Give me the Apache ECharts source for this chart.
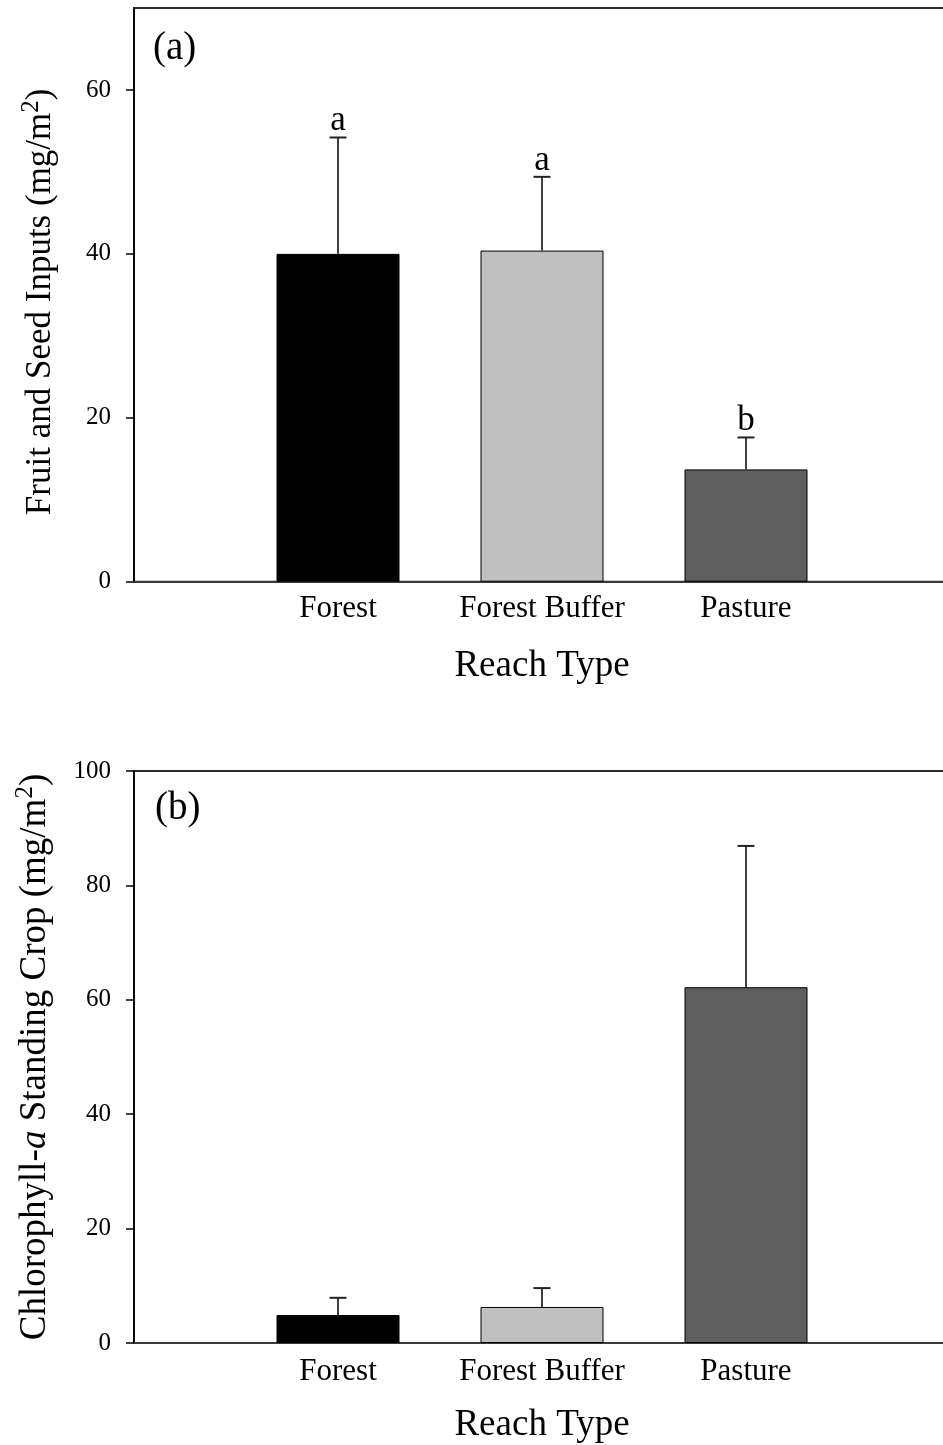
<!DOCTYPE html>
<html>
<head>
<meta charset="utf-8">
<script src="https://cdn.jsdelivr.net/npm/echarts@6/dist/echarts.min.js"></script>
<style>
  html, body { margin: 0; padding: 0; background: #ffffff; overflow: hidden; }
  #chart { width: 953px; height: 1445px; }
</style>
</head>
<body>
<div id="chart"></div>
<script>
// Reach types (blank slots pad both ends of the category axis)
const categories = ['', 'Forest', 'Forest Buffer', 'Pasture', ''];

// (a) Fruit and seed inputs, mean and mean + SE (mg/m2)
const fruitMean  = [null, 40.0, 40.4, 13.7, null];
const fruitUpper = [null, 54.2, 49.4, 17.6, null];
const fruitLetters = ['', 'a', 'a', 'b', ''];
const fruitTicks = [0, 20, 40, 60];

// (b) Chlorophyll-a standing crop, mean and mean + SE (mg/m2)
const chlMean  = [null, 4.9, 6.3, 62.2, null];
const chlUpper = [null, 7.9, 9.6, 86.9, null];
const chlLetters = ['', '', '', '', ''];
const chlTicks = [0, 20, 40, 60, 80, 100];

const barFills = ['none', '#000000', '#c0c0c0', '#5f5f5f', 'none'];

const FONT = '"Liberation Serif", "Times New Roman", serif';

function barData(means) {
  return means.map((v, i) => v == null ? null : {
    value: v,
    itemStyle: { color: barFills[i], borderColor: '#000', borderWidth: 1 }
  });
}

function errData(means, uppers) {
  const rows = [];
  means.forEach((v, i) => { if (v != null) rows.push([i, v, uppers[i]]); });
  return rows;
}

function errRenderer(letters) {
  return function (params, api) {
    const i = api.value(0);
    const base = api.coord([i, api.value(1)]);
    const top = api.coord([i, api.value(2)]);
    const children = [
      { type: 'line', shape: { x1: base[0], y1: base[1], x2: top[0], y2: top[1] },
        style: { stroke: '#000', lineWidth: 1.5 } },
      { type: 'line', shape: { x1: top[0] - 8.5, y1: top[1], x2: top[0] + 8.5, y2: top[1] },
        style: { stroke: '#222', lineWidth: 2 } }
    ];
    const letter = letters[i];
    if (letter) {
      children.push({ type: 'text', x: top[0], y: top[1] + 1,
        style: { text: letter, fontFamily: FONT, fontSize: 35, fill: '#000',
                 align: 'center', verticalAlign: 'bottom' } });
    }
    return { type: 'group', children: children };
  };
}

function nameRich(size) {
  return {
    n: { fontFamily: FONT, fontSize: size, lineHeight: 44, color: '#000' },
    i: { fontFamily: FONT, fontSize: size, lineHeight: 44, fontStyle: 'italic', color: '#000' },
    s: { fontFamily: FONT, fontSize: 25, lineHeight: 25, verticalAlign: 'top', color: '#000' }
  };
}

function xAxisFor(gridIndex, nameGap, labelMargin) {
  return {
    type: 'category', gridIndex: gridIndex, data: categories, boundaryGap: false,
    axisLine: { lineStyle: { color: '#3a3a3a', width: 2 } },
    axisTick: { show: false },
    axisLabel: { fontFamily: FONT, fontSize: 31, color: '#000', margin: labelMargin, interval: 0 },
    splitLine: { show: false },
    name: 'Reach Type', nameLocation: 'middle', nameGap: nameGap,
    nameTextStyle: { fontFamily: FONT, fontSize: 37, color: '#000' }
  };
}

function yAxisFor(gridIndex, max, ticks, name, nameGap, size, pad) {
  return {
    type: 'value', gridIndex: gridIndex, min: 0, max: max, interval: 20,
    axisLine: { show: true, lineStyle: { color: '#000', width: 1.5 } },
    axisTick: { show: true, length: 8, customValues: ticks, lineStyle: { color: '#000', width: 1.5 } },
    axisLabel: { fontFamily: FONT, fontSize: 25, color: '#000', margin: 23, customValues: ticks },
    splitLine: { show: false },
    name: name, nameLocation: 'middle', nameRotate: 90, nameGap: nameGap,
    nameTextStyle: { rich: nameRich(size), padding: pad }
  };
}

const chart = echarts.init(document.getElementById('chart'), null, { renderer: 'canvas' });

chart.setOption({
  backgroundColor: '#ffffff',
  animation: false,
  grid: [
    { left: 134, right: 0.6, top: 8, height: 573.7, show: true,
      borderColor: '#2a2a2a', borderWidth: 2, backgroundColor: 'transparent' },
    { left: 134, right: 0.6, top: 771, height: 573.6, show: true,
      borderColor: '#2a2a2a', borderWidth: 2, backgroundColor: 'transparent' }
  ],
  xAxis: [ xAxisFor(0, 66, 12), xAxisFor(1, 64, 13) ],
  yAxis: [
    yAxisFor(0, 70, fruitTicks, '{n|Fruit and Seed Inputs (mg/m}{s|2}{n|)}', 71, 35, [0, 14, 0, 0]),
    yAxisFor(1, 100, chlTicks, '{n|Chlorophyll-}{i|a}{n| Standing Crop (mg/m}{s|2}{n|)}', 77, 37, [0, 0, 0, 0])
  ],
  graphic: [
    { type: 'text', x: 153, y: 49,
      style: { text: '(a)', fontFamily: FONT, fontSize: 39, fill: '#000', verticalAlign: 'middle' } },
    { type: 'text', x: 155, y: 809,
      style: { text: '(b)', fontFamily: FONT, fontSize: 39, fill: '#000', verticalAlign: 'middle' } }
  ],
  series: [
    { type: 'bar', xAxisIndex: 0, yAxisIndex: 0, barWidth: 123, data: barData(fruitMean) },
    { type: 'custom', xAxisIndex: 0, yAxisIndex: 0, z: 5,
      renderItem: errRenderer(fruitLetters), data: errData(fruitMean, fruitUpper) },
    { type: 'bar', xAxisIndex: 1, yAxisIndex: 1, barWidth: 123, data: barData(chlMean) },
    { type: 'custom', xAxisIndex: 1, yAxisIndex: 1, z: 5,
      renderItem: errRenderer(chlLetters), data: errData(chlMean, chlUpper) }
  ]
});
</script>
</body>
</html>
